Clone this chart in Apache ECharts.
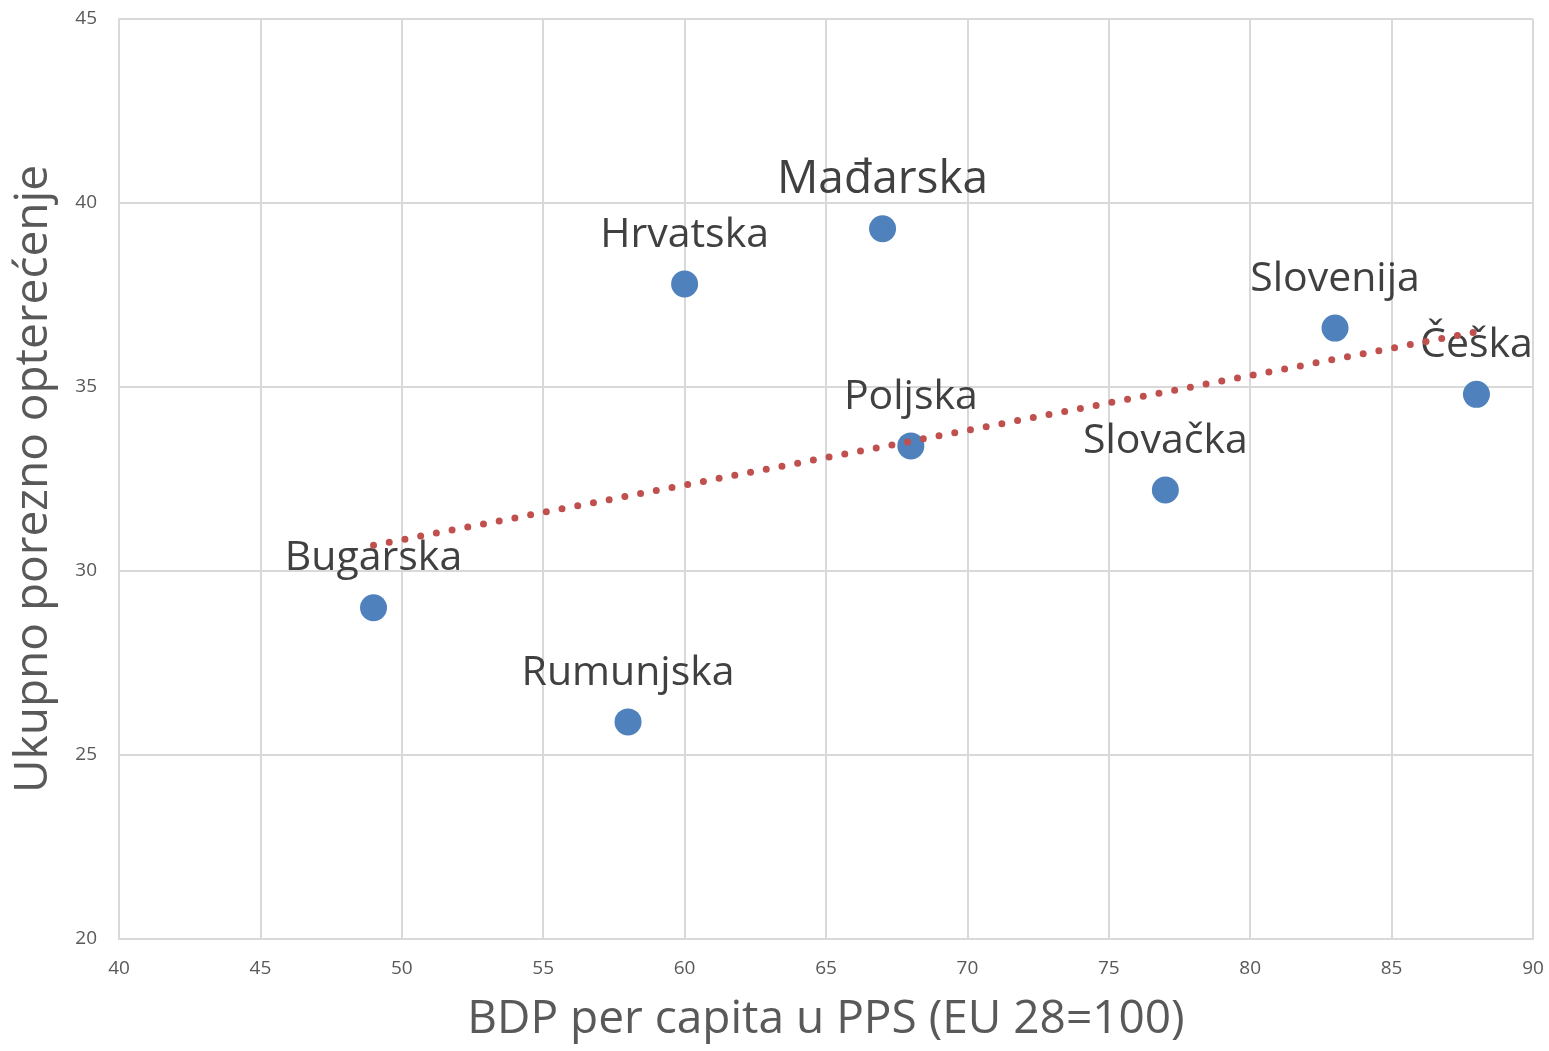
<!DOCTYPE html>
<html>
<head>
<meta charset="utf-8">
<script src="https://cdn.jsdelivr.net/npm/echarts@6/dist/echarts.min.js"></script>
<style>
  html, body { margin: 0; padding: 0; background: #fff; }
  #chart { width: 1549px; height: 1051px; }
</style>
</head>
<body>
<div id="chart"></div>
<script>
// countries and their values
const countries = ["Bugarska", "Rumunjska", "Hrvatska", "Mađarska", "Poljska", "Slovačka", "Slovenija", "Češka"];
const gdpPerCapita = [49, 58, 60, 67, 68, 77, 83, 88];
const taxBurden = [29.0, 25.9, 37.8, 39.3, 33.4, 32.2, 36.6, 34.8];

// linear trend line end points, as drawn
const trendX = [49, 88];
const trendY = [30.7, 36.5];

const xTicks = { min: 40, max: 90, interval: 5 };
const yTicks = { min: 20, max: 45, interval: 5 };

const FONT = "'Open Sans', sans-serif";
const chart = echarts.init(document.getElementById("chart"));

const points = countries.map((name, i) => {
  const item = { name: name, value: [gdpPerCapita[i], taxBurden[i]] };
  // the one label that is bigger in the original
  if (name === "Mađarska") item.label = { fontSize: 46, distance: 12 };
  return item;
});

chart.setOption({
  animation: false,
  textStyle: { fontFamily: FONT },
  grid: { left: 119, right: 16, top: 19, bottom: 112 },
  xAxis: {
    type: "value",
    min: xTicks.min, max: xTicks.max, interval: xTicks.interval,
    name: "BDP per capita u PPS (EU 28=100)",
    nameLocation: "middle",
    nameGap: 58,
    nameTextStyle: { fontSize: 46, color: "#595959", fontFamily: FONT },
    axisLine: { show: true, lineStyle: { color: "#d9d9d9", width: 2 } },
    axisTick: { show: false },
    axisLabel: { fontSize: 19, color: "#595959", margin: 20 },
    splitLine: { show: true, lineStyle: { color: "#d9d9d9", width: 2 } }
  },
  yAxis: {
    type: "value",
    min: yTicks.min, max: yTicks.max, interval: yTicks.interval,
    name: "Ukupno porezno opterećenje",
    nameLocation: "middle",
    nameRotate: 90,
    nameGap: 62,
    nameTextStyle: { fontSize: 46, color: "#595959", fontFamily: FONT },
    axisLine: { show: true, lineStyle: { color: "#d9d9d9", width: 2 } },
    axisTick: { show: false },
    axisLabel: { fontSize: 19, color: "#595959", margin: 22 },
    splitLine: { show: true, lineStyle: { color: "#d9d9d9", width: 2 } }
  },
  series: [
    {
      type: "scatter",
      symbolSize: 27,
      itemStyle: { color: "#4f81bd", opacity: 1 },
      label: {
        show: true,
        position: "top",
        distance: 15,
        formatter: (p) => p.name,
        fontSize: 41,
        color: "#404040",
        fontFamily: FONT
      },
      data: points,
      z: 2
    },
    {
      type: "line",
      data: trendX.map((x, i) => [x, trendY[i]]),
      symbol: "none",
      silent: true,
      lineStyle: { color: "#c0504d", width: 7, type: [0, 16], cap: "round", opacity: 1 },
      z: 5
    }
  ]
});
</script>
</body>
</html>
